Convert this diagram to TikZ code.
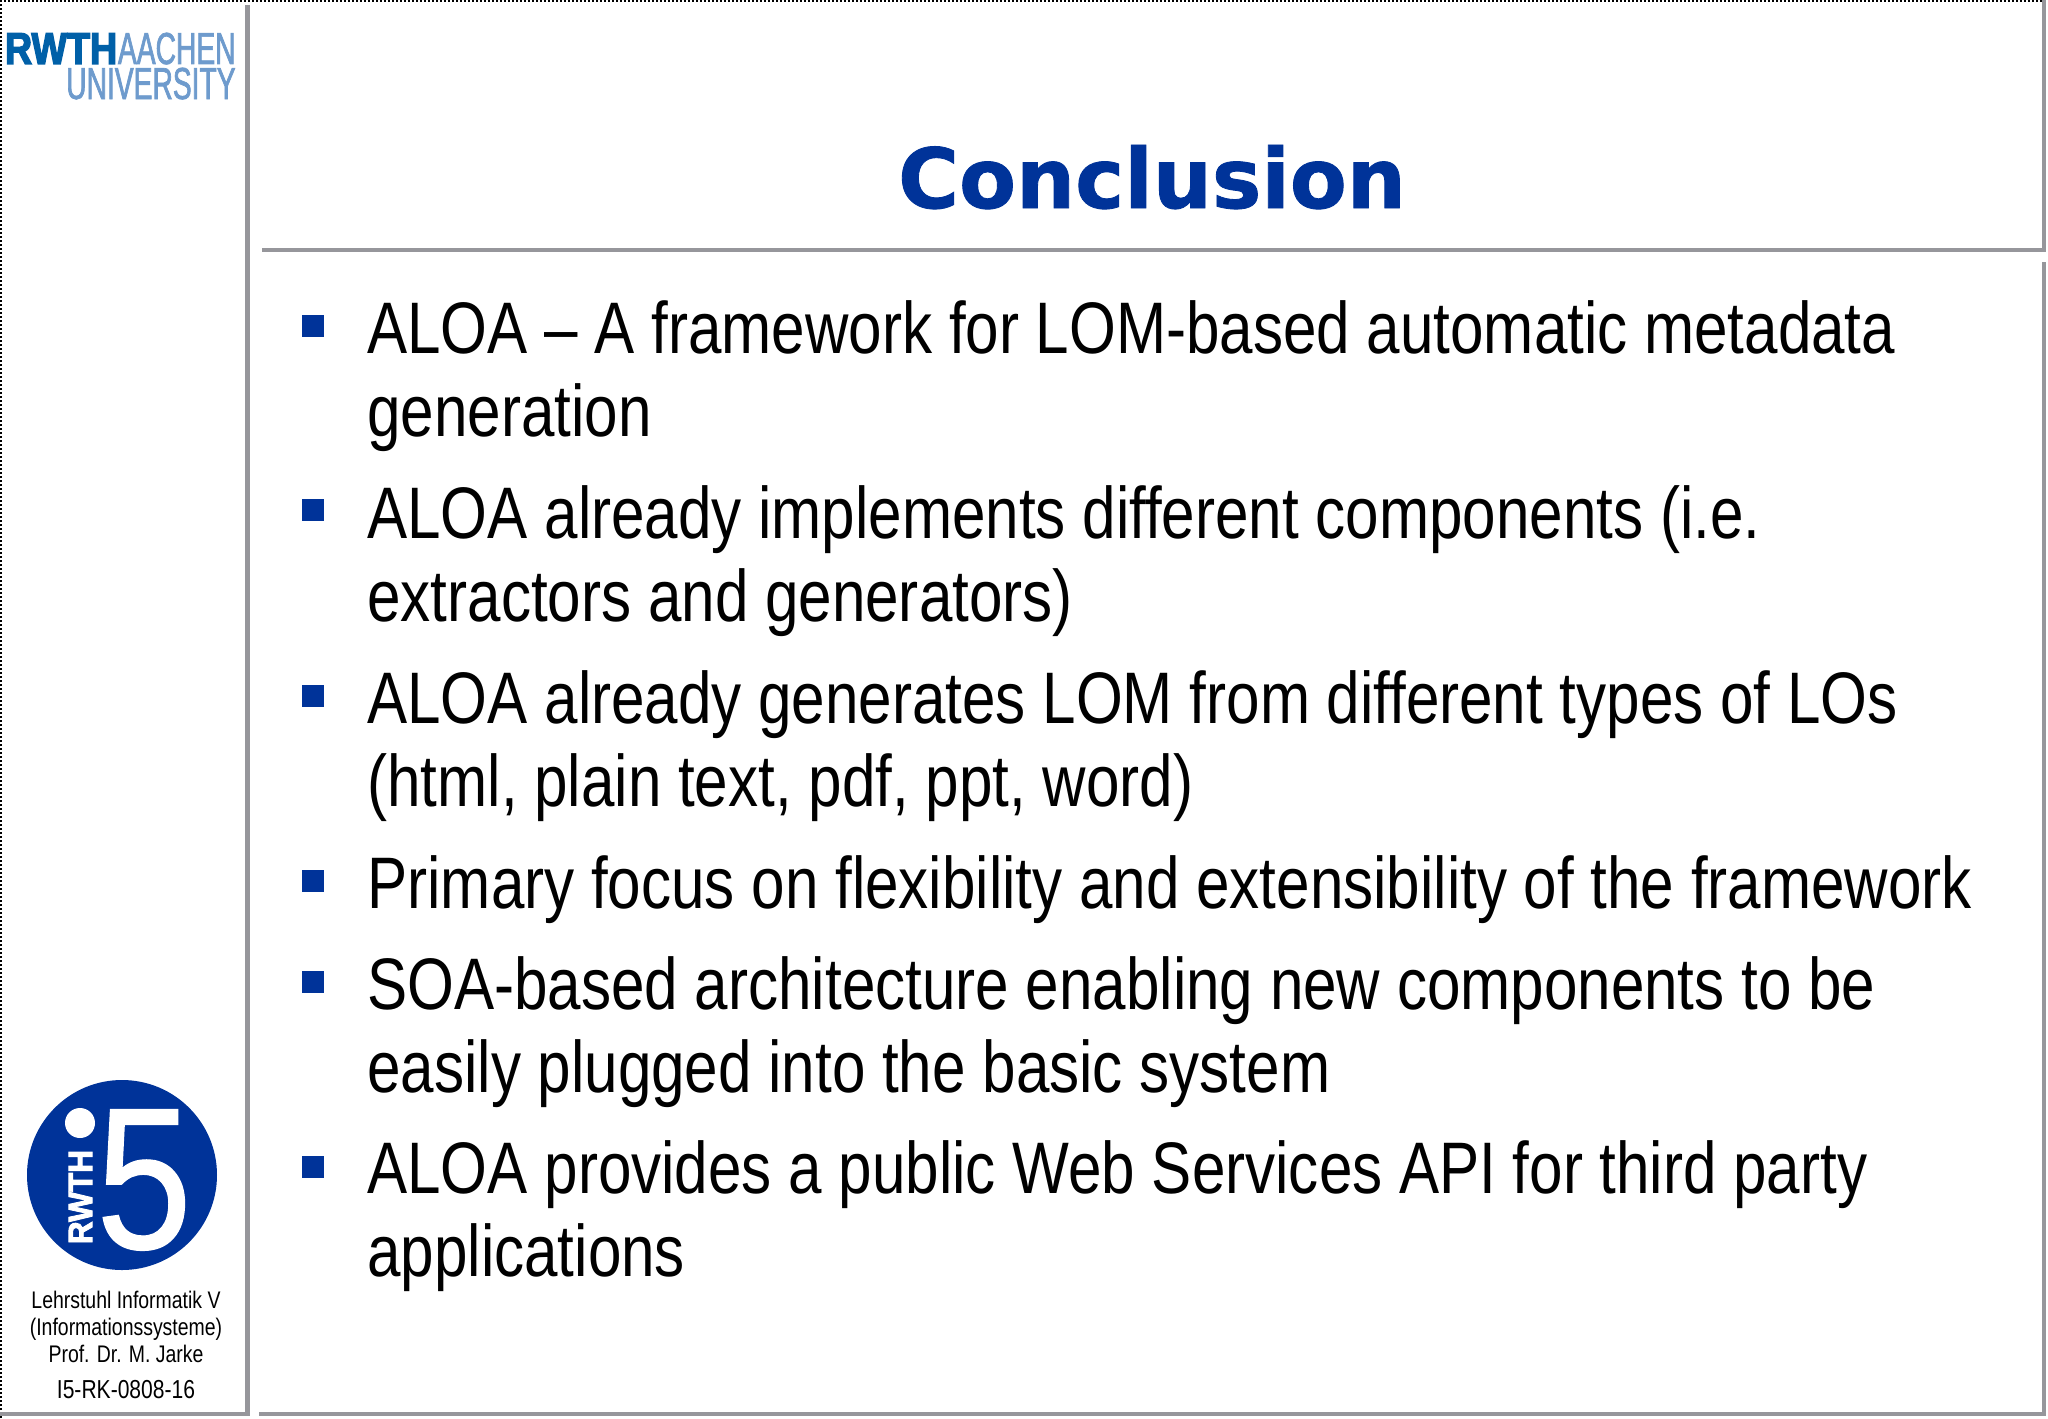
\documentclass[tikz,border=0pt]{standalone}
\usepackage{fontspec}
\usepackage{xcolor}
\usetikzlibrary{positioning}
\setmainfont{Liberation Sans}
\newfontfamily\bodyfont[FakeStretch=0.824]{Liberation Sans}
\newfontfamily\captionfont[FakeStretch=0.81]{Liberation Sans}
\newfontfamily\logofont[FakeStretch=0.63,FakeBold=1.5]{Liberation Sans}
\newfontfamily\logoboldfont[FakeStretch=0.84,FakeBold=3]{Liberation Sans Bold}
\newfontfamily\badgefont[FakeStretch=0.93,FakeBold=2.5]{Liberation Sans Bold}
\newfontfamily\fivefont[FakeStretch=0.85,FakeBold=0.6]{Liberation Sans}
\newfontfamily\titlefont[FakeBold=1]{DejaVu Sans Bold}
\definecolor{slideblue}{RGB}{0,51,153}
\definecolor{framegray}{RGB}{150,150,155}
\definecolor{rwthdark}{RGB}{0,96,168}
\definecolor{rwthlight}{RGB}{110,155,205}
\tikzset{
    framerule/.style={line width=2.4pt,framegray},
    itemtext/.style={anchor=base west,inner sep=0pt,align=left,font=\bodyfont\fontsize{36.5}{41.5}\selectfont},
    itembullet/.style={fill=slideblue,minimum size=11pt,inner sep=0pt},
    sidetext/.style={anchor=base,inner sep=0pt,font=\captionfont\fontsize{12}{14}\selectfont},
    logotext/.style={anchor=base east,inner sep=0pt}
}

\begin{document}
\begin{tikzpicture}[x=0.5pt,y=-0.5pt]
    \useasboundingbox (0,0) rectangle (2048,1418);
    \fill[white] (0,0) rectangle (2048,1418);

    % Dotted page edge
    \draw[line width=1pt,densely dotted] (1,1418) -- (1,1) -- (2048,1);

    % Frame rules
    \draw[framerule] (247.5,5) -- (247.5,1414);
    \draw[framerule] (0,1414) -- (250,1414);
    \draw[framerule] (262,250) -- (2044,250) -- (2044,0);
    \draw[framerule] (2044,262) -- (2044,1414);
    \draw[framerule] (259,1414) -- (2046,1414);

    % University logo
    \node[logotext,font=\logofont\fontsize{22.4}{24}\selectfont,rwthlight] (aachen) at (236,64) {AACHEN};
    \node[logotext,font=\logoboldfont\fontsize{22.4}{24}\selectfont,rwthdark,left=0pt of aachen.base west,anchor=base east] (rwth) {RWTH};
    \node[logotext,font=\logofont\fontsize{22.4}{24}\selectfont,rwthlight] (university) at (236,99) {UNIVERSITY};

    % Chair logo
    \node[circle,fill=slideblue,minimum size=95pt,inner sep=0pt] (badge) at (122,1175) {};
    \node[circle,fill=white,minimum size=15pt,inner sep=0pt] (badgedot) at (80,1123) {};
    \node[inner sep=0pt,white,font=\fivefont\fontsize{101}{101}\selectfont] (badgefive) at (144,1180) {5};
    \node[inner sep=0pt,white,rotate=90,font=\badgefont\fontsize{17}{17}\selectfont] (badgename) at (80.5,1197) {RWTH};

    % Chair caption
    \node[sidetext] (chair) at (126,1308) {Lehrstuhl Informatik V};
    \node[sidetext] (group) at (126,1335) {(Informationssysteme)};
    \node[sidetext] (prof) at (126,1362) {Prof. Dr. M. Jarke};
    \node[sidetext,font=\captionfont\fontsize{13}{14}\selectfont] (slideno) at (126,1398) {I5-RK-0808-16};

    % Title
    \node[anchor=base,inner sep=0pt,slideblue,font=\titlefont\fontsize{41.5}{41.5}\selectfont] (title) at (1152,208) {Conclusion};

    % Bullet items, placed by the baseline of their last line
    \foreach \name/\ybullet/\ypos/\body in {
        one/326/436/{ALOA – A framework for LOM-based automatic metadata\\generation},
        two/510/621/{ALOA already implements different components (i.e.\\extractors and generators)},
        three/696/806/{ALOA already generates LOM from different types of LOs\\(html, plain text, pdf, ppt, word)},
        four/881/908/{Primary focus on flexibility and extensibility of the framework},
        five/982/1092/{SOA-based architecture enabling new components to be\\easily plugged into the basic system},
        six/1167/1276/{ALOA provides a public Web Services API for third party\\applications}} {
        \node[itembullet] (bullet\name) at (313,\ybullet) {};
        \node[itemtext] (item\name) at (367,\ypos) {\body};
    }
\end{tikzpicture}
\end{document}
